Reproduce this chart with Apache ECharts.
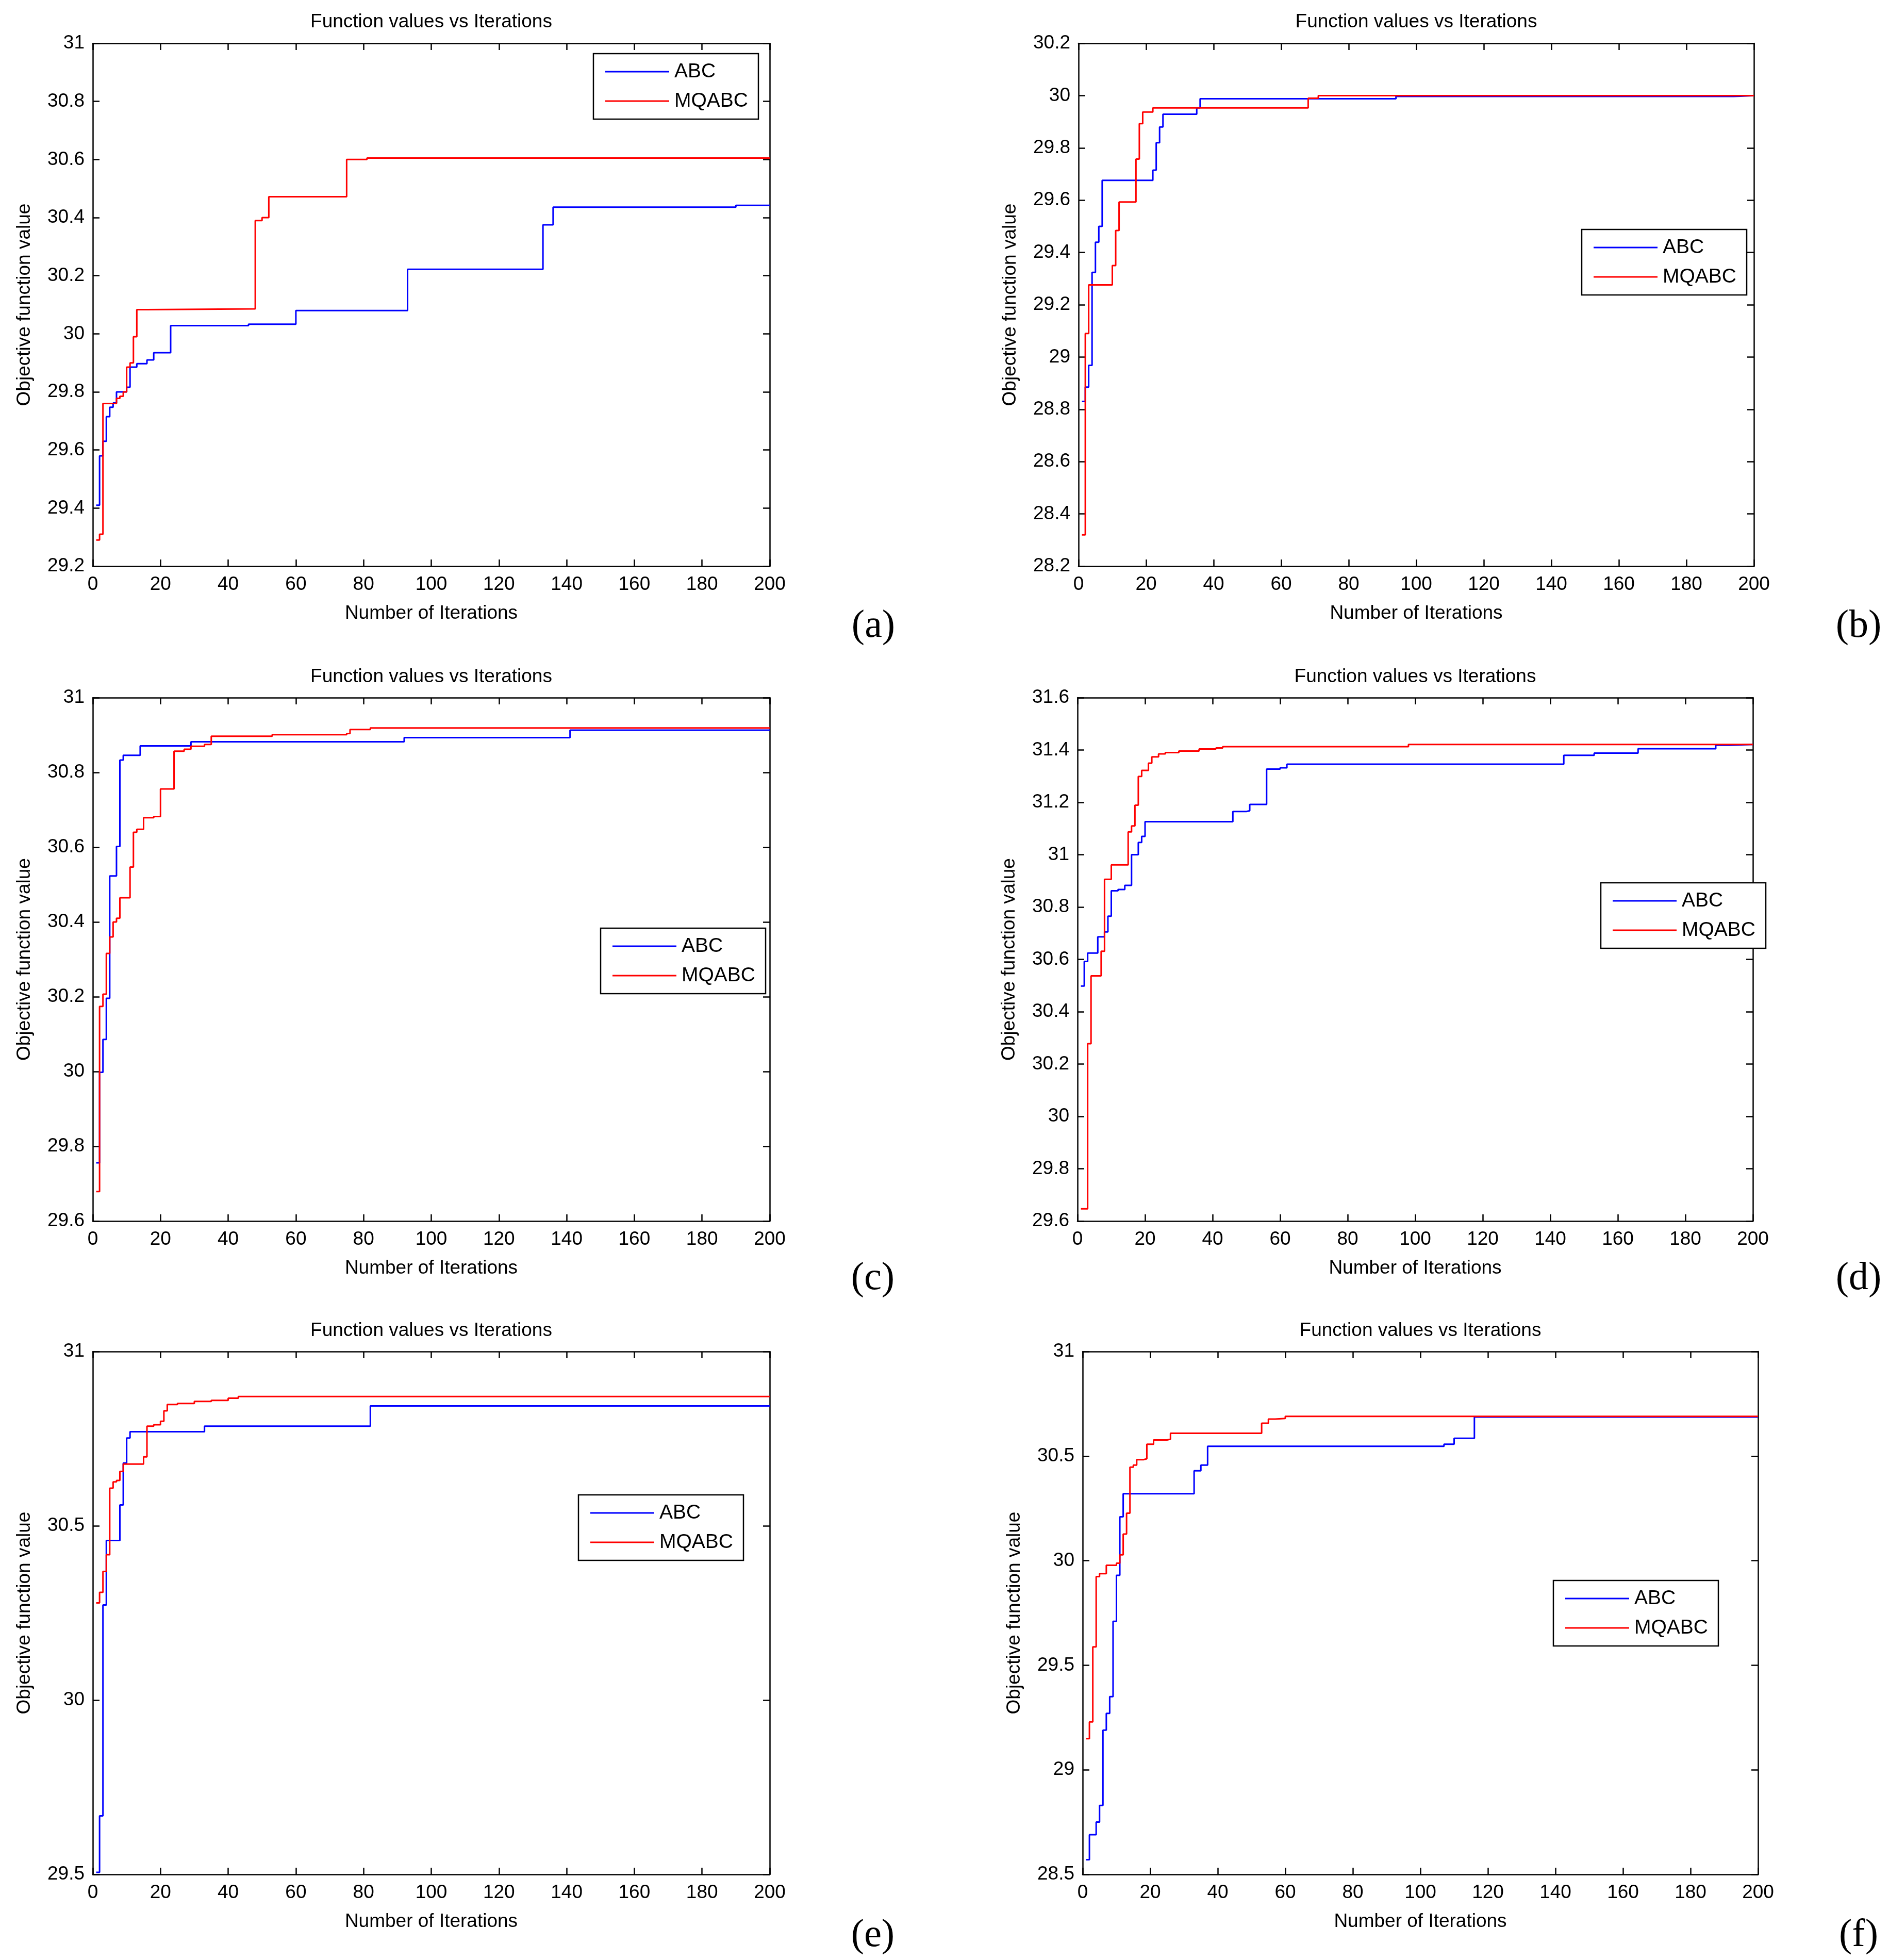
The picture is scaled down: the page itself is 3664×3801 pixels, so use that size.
<!DOCTYPE html>
<html>
<head>
<meta charset="utf-8">
<title>Function values vs Iterations</title>
<script src="https://cdn.jsdelivr.net/npm/echarts@6/dist/echarts.min.js"></script>
<style>
  html, body { margin: 0; padding: 0; background: #fff; }
  #chart { width: 3664px; height: 3801px; }
</style>
</head>
<body>
<div id="chart"></div>
<script>
// step change points: iteration where a new best value starts
var aAbcIter = [1, 2, 3, 4, 5, 6, 7, 10, 11, 13, 16, 18, 23, 46, 60, 93, 133, 136, 190, 200];
var aAbcVal  = [29.41, 29.58, 29.63, 29.715, 29.747, 29.762, 29.80, 29.816, 29.885, 29.897, 29.91, 29.935, 30.028, 30.033, 30.08, 30.222, 30.375, 30.436, 30.442, 30.442];
var aMqIter  = [1, 2, 3, 7, 8, 9, 10, 11, 12, 13, 16, 48, 50, 52, 75, 81, 200];
var aMqVal   = [29.29, 29.31, 29.76, 29.778, 29.785, 29.80, 29.885, 29.90, 29.99, 30.083, 30.086, 30.39, 30.40, 30.472, 30.60, 30.605, 30.605];

var bAbcIter = [1, 2, 3, 4, 5, 6, 7, 22, 23, 24, 25, 35, 36, 94, 194, 200];
var bAbcVal  = [28.83, 28.885, 28.968, 29.324, 29.439, 29.50, 29.676, 29.715, 29.82, 29.88, 29.929, 29.953, 29.988, 29.997, 30.0, 30.0];
var bMqIter  = [1, 2, 3, 10, 11, 12, 17, 18, 19, 22, 68, 71, 200];
var bMqVal   = [28.32, 29.09, 29.276, 29.35, 29.484, 29.593, 29.757, 29.893, 29.937, 29.953, 29.99, 30.0, 30.0];

var cAbcIter = [1, 2, 3, 4, 5, 7, 8, 9, 14, 29, 92, 141, 200];
var cAbcVal  = [29.756, 29.998, 30.086, 30.196, 30.523, 30.602, 30.833, 30.846, 30.871, 30.882, 30.893, 30.913, 30.913];
var cMqIter  = [1, 2, 3, 4, 5, 6, 7, 8, 11, 12, 13, 15, 18, 20, 24, 27, 29, 33, 35, 53, 75, 76, 82, 200];
var cMqVal   = [29.679, 30.174, 30.207, 30.316, 30.36, 30.40, 30.41, 30.465, 30.547, 30.64, 30.648, 30.679, 30.682, 30.756, 30.857, 30.862, 30.87, 30.875, 30.897, 30.901, 30.904, 30.915, 30.919, 30.919];

var dAbcIter = [1, 2, 3, 6, 8, 9, 10, 12, 14, 16, 18, 19, 20, 46, 50, 51, 56, 60, 62, 144, 153, 166, 189, 193, 200];
var dAbcVal  = [30.498, 30.592, 30.624, 30.686, 30.705, 30.765, 30.862, 30.867, 30.883, 31.0, 31.047, 31.07, 31.126, 31.165, 31.168, 31.192, 31.327, 31.332, 31.346, 31.38, 31.388, 31.405, 31.418, 31.421, 31.421];
var dMqIter  = [1, 3, 4, 7, 8, 10, 15, 16, 17, 18, 19, 21, 22, 24, 26, 30, 36, 41, 43, 98, 200];
var dMqVal   = [29.647, 30.278, 30.537, 30.631, 30.906, 30.961, 31.087, 31.11, 31.189, 31.299, 31.322, 31.35, 31.374, 31.385, 31.39, 31.396, 31.404, 31.408, 31.413, 31.421, 31.421];

var eAbcIter = [1, 2, 3, 4, 8, 9, 10, 11, 33, 82, 200];
var eAbcVal  = [29.506, 29.668, 30.273, 30.458, 30.56, 30.68, 30.752, 30.77, 30.786, 30.844, 30.844];
var eMqIter  = [1, 2, 3, 4, 5, 6, 7, 8, 9, 15, 16, 18, 20, 21, 22, 25, 30, 35, 40, 43, 200];
var eMqVal   = [30.279, 30.309, 30.369, 30.417, 30.608, 30.626, 30.63, 30.656, 30.677, 30.698, 30.786, 30.79, 30.80, 30.83, 30.848, 30.851, 30.857, 30.86, 30.866, 30.871, 30.871];

var fAbcIter = [1, 2, 4, 5, 6, 7, 8, 9, 10, 11, 12, 33, 35, 37, 107, 110, 116, 200];
var fAbcVal  = [28.57, 28.69, 28.75, 28.83, 29.19, 29.27, 29.35, 29.71, 29.93, 30.21, 30.32, 30.43, 30.457, 30.547, 30.557, 30.585, 30.687, 30.687];
var fMqIter  = [1, 2, 3, 4, 5, 7, 10, 11, 12, 13, 14, 15, 16, 18, 19, 21, 25, 26, 53, 55, 57, 60, 200];
var fMqVal   = [29.149, 29.229, 29.588, 29.924, 29.938, 29.978, 29.988, 30.028, 30.127, 30.227, 30.447, 30.457, 30.483, 30.487, 30.557, 30.577, 30.581, 30.609, 30.657, 30.677, 30.68, 30.69, 30.69];

// axis ranges
var yMins  = [29.2, 28.2, 29.6, 29.6, 29.5, 28.5];
var yMaxs  = [31, 30.2, 31, 31.6, 31, 31];
var ySteps = [0.2, 0.2, 0.2, 0.2, 0.5, 0.5];
var panelTags = ['(a)', '(b)', '(c)', '(d)', '(e)', '(f)'];
var seriesNames = ['ABC', 'MQABC'];

var abcIters = [aAbcIter, bAbcIter, cAbcIter, dAbcIter, eAbcIter, fAbcIter];
var abcVals  = [aAbcVal, bAbcVal, cAbcVal, dAbcVal, eAbcVal, fAbcVal];
var mqIters  = [aMqIter, bMqIter, cMqIter, dMqIter, eMqIter, fMqIter];
var mqVals   = [aMqVal, bMqVal, cMqVal, dMqVal, eMqVal, fMqVal];

// layout (px)
var grids = [
    { left: 180,  top: 84,   width: 1313, height: 1014 },
    { left: 2092, top: 84,   width: 1310, height: 1014 },
    { left: 180,  top: 1353, width: 1313, height: 1015 },
    { left: 2090, top: 1353, width: 1310, height: 1015 },
    { left: 180,  top: 2621, width: 1313, height: 1014 },
    { left: 2100, top: 2621, width: 1310, height: 1014 }
];
var legendPos = [[1151, 104], [3068, 445], [1165, 1800], [3105, 1712], [1122, 2899], [3013, 3065]];
var titleTops = [24, 24, 1294, 1294, 2562, 2562];
var tagPos = [[1694, 1177], [3605, 1177], [1693, 2442], [3605, 2442], [1693, 3716], [3605, 3716]];

var sans = "'Liberation Sans', Arial, sans-serif";
var black = '#000';

function zip(xs, ys) {
    var out = [];
    for (var i = 0; i < xs.length; i++) out.push([xs[i], ys[i]]);
    return out;
}

var chart = echarts.init(document.getElementById('chart'));

var option = {
    backgroundColor: '#fff',
    animation: false,
    grid: [], xAxis: [], yAxis: [], series: [], legend: [], title: []
};

for (var i = 0; i < 6; i++) {
    var g = grids[i];
    option.grid.push({ left: g.left, top: g.top, width: g.width, height: g.height, show: false });

    var tick = { show: true, inside: true, length: 13, lineStyle: { color: black, width: 2.5 } };
    var line = { show: true, onZero: false, lineStyle: { color: black, width: 2.5 } };

    option.xAxis.push({
        gridIndex: i, type: 'value', position: 'bottom',
        min: 0, max: 200, interval: 20,
        axisLine: line, axisTick: tick, splitLine: { show: false },
        axisLabel: { color: black, fontSize: 37, fontFamily: sans, margin: 17 },
        name: 'Number of Iterations', nameLocation: 'middle', nameGap: 73,
        nameTextStyle: { color: black, fontSize: 37, fontFamily: sans }
    });
    option.xAxis.push({
        gridIndex: i, type: 'value', position: 'top',
        min: 0, max: 200, interval: 20,
        axisLine: line, axisTick: tick, splitLine: { show: false },
        axisLabel: { show: false }
    });
    option.yAxis.push({
        gridIndex: i, type: 'value', position: 'left',
        min: yMins[i], max: yMaxs[i], interval: ySteps[i],
        axisLine: line, axisTick: tick, splitLine: { show: false },
        axisLabel: { color: black, fontSize: 37, fontFamily: sans, margin: 16 },
        name: 'Objective function value', nameLocation: 'middle', nameGap: 114,
        nameTextStyle: { color: black, fontSize: 37, fontFamily: sans }
    });
    option.yAxis.push({
        gridIndex: i, type: 'value', position: 'right',
        min: yMins[i], max: yMaxs[i], interval: ySteps[i],
        axisLine: line, axisTick: tick, splitLine: { show: false },
        axisLabel: { show: false }
    });

    option.series.push({
        name: seriesNames[0], type: 'line', step: 'end',
        xAxisIndex: 2 * i, yAxisIndex: 2 * i,
        data: zip(abcIters[i], abcVals[i]),
        showSymbol: false, symbol: 'none', silent: true,
        lineStyle: { color: '#0000ff', width: 3 },
        itemStyle: { color: '#0000ff' }
    });
    option.series.push({
        name: seriesNames[1], type: 'line', step: 'end',
        xAxisIndex: 2 * i, yAxisIndex: 2 * i,
        data: zip(mqIters[i], mqVals[i]),
        showSymbol: false, symbol: 'none', silent: true,
        lineStyle: { color: '#ff0000', width: 3 },
        itemStyle: { color: '#ff0000' }
    });

    option.legend.push({
        data: seriesNames, orient: 'vertical',
        left: legendPos[i][0], top: legendPos[i][1],
        padding: [15, 20, 15, 23], itemGap: 17,
        itemWidth: 124, itemHeight: 3, icon: 'rect',
        borderColor: black, borderWidth: 2.5, backgroundColor: '#fff',
        selectedMode: false,
        textStyle: { color: black, fontSize: 39, lineHeight: 40, fontFamily: sans, padding: [0, 0, 0, 5] }
    });

    option.title.push({
        text: 'Function values vs Iterations',
        left: g.left + g.width / 2, top: titleTops[i], textAlign: 'center', padding: 0,
        textStyle: { color: black, fontSize: 37, fontWeight: 'normal', fontFamily: sans }
    });
    option.title.push({
        text: panelTags[i],
        left: tagPos[i][0], top: tagPos[i][1], textAlign: 'center', padding: 0,
        textStyle: { color: black, fontSize: 76, fontWeight: 'normal', fontFamily: "'Liberation Serif', 'Times New Roman', serif" }
    });
}

chart.setOption(option);
</script>
</body>
</html>
